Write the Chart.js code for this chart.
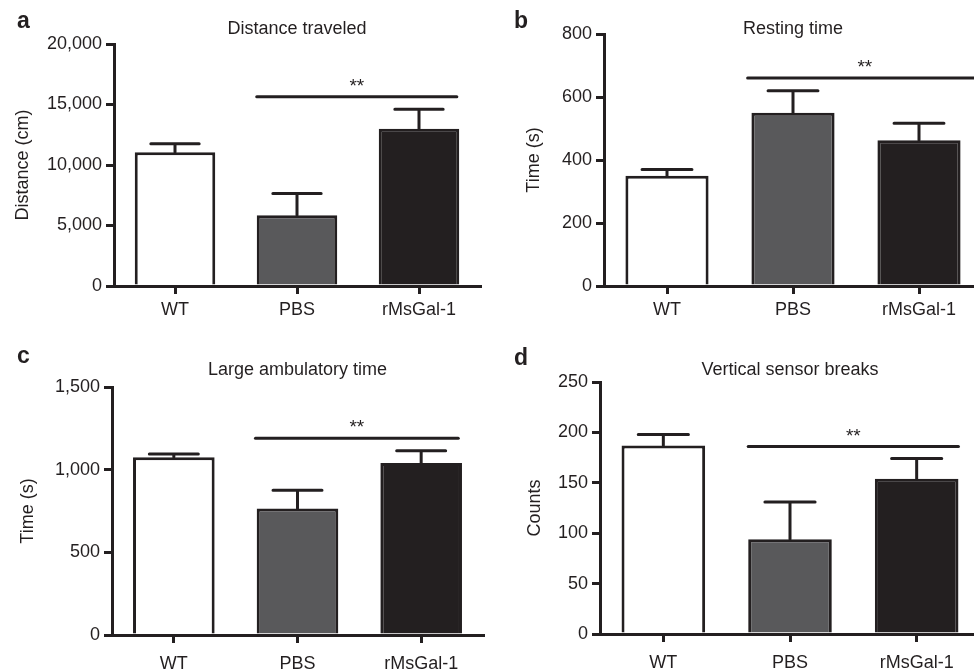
<!DOCTYPE html>
<html>
<head>
<meta charset="utf-8">
<script src="https://cdn.jsdelivr.net/npm/chart.js@4.4.0/dist/chart.umd.min.js"></script>
<style>
    html, body { margin: 0; padding: 0; background: #fff; width: 974px; height: 669px; overflow: hidden; }
    .panel { position: absolute; }
</style>
</head>
<body>
<div class="panel" style="left:0px;top:0px"><canvas id="chartA" width="487" height="325"></canvas></div>
<div class="panel" style="left:487px;top:0px"><canvas id="chartB" width="510" height="325"></canvas></div>
<div class="panel" style="left:0px;top:330px"><canvas id="chartC" width="487" height="339"></canvas></div>
<div class="panel" style="left:487px;top:330px"><canvas id="chartD" width="510" height="339"></canvas></div>
<script>
// groups on the x axis
const groups = ["WT", "PBS", "rMsGal-1"];

// a - distance traveled (cm): mean and upper SEM
const distanceMeans = [11050, 5850, 13000];
const distanceErrors = [700, 1800, 1600];
const distanceTicks = [0, 5000, 10000, 15000, 20000];
const distanceSig = 15650;

// b - resting time (s)
const restingMeans = [350, 550, 463];
const restingErrors = [20, 70, 54];
const restingTicks = [0, 200, 400, 600, 800];
const restingSig = 660;

// c - large ambulatory time (s)
const ambulatoryMeans = [1075, 765, 1040];
const ambulatoryErrors = [20, 110, 75];
const ambulatoryTicks = [0, 500, 1000, 1500];
const ambulatorySig = 1190;

// d - vertical sensor breaks (counts)
const verticalMeans = [187, 94, 154];
const verticalErrors = [11, 37, 20];
const verticalTicks = [0, 50, 100, 150, 200, 250];
const verticalSig = 186;

const ink = '#231f20';
const fills = ['#ffffff', '#59595b', '#231f20'];

Chart.defaults.font.family = '"Liberation Sans", Arial, Helvetica, sans-serif';
Chart.defaults.font.size = 18;
Chart.defaults.color = ink;

// error bars, significance bar, title and panel letter
const panelExtras = {
    id: 'panelExtras',
    afterDatasetsDraw(chart, args, opts) {
        const ctx = chart.ctx;
        const xs = chart.scales.x, ys = chart.scales.y;
        const meta = chart.getDatasetMeta(0);
        ctx.save();
        ctx.strokeStyle = ink;
        ctx.lineWidth = 3;
        ctx.lineCap = 'round';
        meta.data.forEach((bar, i) => {
            const top = ys.getPixelForValue(opts.means[i] + opts.errors[i]);
            const half = bar.width * 0.3;
            ctx.beginPath();
            ctx.moveTo(bar.x, bar.y);
            ctx.lineTo(bar.x, top);
            ctx.moveTo(bar.x - half, top);
            ctx.lineTo(bar.x + half, top);
            ctx.stroke();
        });

        const sy = ys.getPixelForValue(opts.sig);
        const x1 = xs.getPixelForValue(opts.sigFrom);
        const x2 = xs.getPixelForValue(opts.sigTo);
        ctx.beginPath();
        ctx.moveTo(x1, sy);
        ctx.lineTo(x2, sy);
        ctx.stroke();
        ctx.fillStyle = ink;
        ctx.font = '19px "Liberation Sans", Arial, sans-serif';
        ctx.textAlign = 'center';
        ctx.textBaseline = 'alphabetic';
        ctx.fillText('**', (x1 + x2) / 2, sy - 5);
        ctx.restore();
    },
    afterDraw(chart, args, opts) {
        const ctx = chart.ctx;
        const area = chart.chartArea;
        ctx.save();
        ctx.fillStyle = ink;
        ctx.textAlign = 'center';
        ctx.textBaseline = 'middle';
        ctx.font = '18px "Liberation Sans", Arial, sans-serif';
        ctx.fillText(opts.title, (area.left + area.right) / 2, opts.titleY);
        ctx.textAlign = 'left';
        ctx.textBaseline = 'alphabetic';
        ctx.font = 'bold 23px "Liberation Sans", Arial, sans-serif';
        ctx.fillText(opts.letter, opts.letterX, opts.letterY);
        ctx.restore();
    }
};

function makePanel(id, means, errors, ticks, sig, yLabel, layout, extras) {
    const canvas = document.getElementById(id);
    return new Chart(canvas.getContext('2d'), {
        type: 'bar',
        data: {
            labels: groups,
            datasets: [{
                data: means,
                backgroundColor: fills,
                borderColor: ink,
                borderWidth: 3,
                barPercentage: 0.66,
                categoryPercentage: 1.0
            }]
        },
        options: {
            responsive: false,
            animation: false,
            layout: {
                padding: {
                    left: 0,
                    top: layout.top,
                    right: canvas.width - layout.right,
                    bottom: 0
                }
            },
            plugins: {
                legend: { display: false },
                title: { display: false },
                tooltip: { enabled: false },
                panelExtras: Object.assign({ means: means, errors: errors, sig: sig }, extras)
            },
            scales: {
                x: {
                    afterFit: (s) => { s.height = canvas.height - layout.bottom; },
                    grid: {
                        display: true,
                        offset: false,
                        drawOnChartArea: false,
                        drawTicks: true,
                        tickLength: 8,
                        lineWidth: 3,
                        tickWidth: 3,
                        tickColor: ink,
                        color: ink
                    },
                    border: { display: true, width: 3, color: ink },
                    ticks: { padding: layout.xPad, color: ink, maxRotation: 0 }
                },
                y: {
                    min: ticks[0],
                    max: ticks[ticks.length - 1],
                    afterFit: (s) => { s.width = layout.left; },
                    afterBuildTicks: (s) => { s.ticks = ticks.map(v => ({ value: v })); },
                    grid: {
                        display: true,
                        drawOnChartArea: false,
                        drawTicks: true,
                        tickLength: 8,
                        lineWidth: 3,
                        tickWidth: 3,
                        tickColor: ink,
                        color: ink
                    },
                    border: { display: true, width: 3, color: ink },
                    ticks: {
                        padding: 4,
                        color: ink,
                        callback: (v) => v.toLocaleString('en-US')
                    },
                    title: {
                        display: true,
                        text: yLabel,
                        color: ink,
                        font: { size: 18 },
                        padding: { top: layout.yTitlePad, bottom: 0 }
                    }
                }
            }
        },
        plugins: [panelExtras]
    });
}

makePanel('chartA', distanceMeans, distanceErrors, distanceTicks, distanceSig, 'Distance (cm)',
    { left: 114, top: 44, right: 480, bottom: 286, xPad: 5, yTitlePad: 12 },
    { title: 'Distance traveled', titleY: 29, letter: 'a', letterX: 17, letterY: 28, sigFrom: 0.67, sigTo: 2.31 });

makePanel('chartB', restingMeans, restingErrors, restingTicks, restingSig, 'Time (s)',
    { left: 117, top: 34, right: 495, bottom: 286, xPad: 5, yTitlePad: 36 },
    { title: 'Resting time', titleY: 29, letter: 'b', letterX: 27, letterY: 28, sigFrom: 0.64, sigTo: 2.5 });

makePanel('chartC', ambulatoryMeans, ambulatoryErrors, ambulatoryTicks, ambulatorySig, 'Time (s)',
    { left: 112, top: 57, right: 483, bottom: 305, xPad: 10, yTitlePad: 17 },
    { title: 'Large ambulatory time', titleY: 40, letter: 'c', letterX: 17, letterY: 33, sigFrom: 0.66, sigTo: 2.3 });

makePanel('chartD', verticalMeans, verticalErrors, verticalTicks, verticalSig, 'Counts',
    { left: 113, top: 52, right: 493, bottom: 304, xPad: 10, yTitlePad: 37 },
    { title: 'Vertical sensor breaks', titleY: 40, letter: 'd', letterX: 27, letterY: 35, sigFrom: 0.67, sigTo: 2.33 });
</script>
</body>
</html>
